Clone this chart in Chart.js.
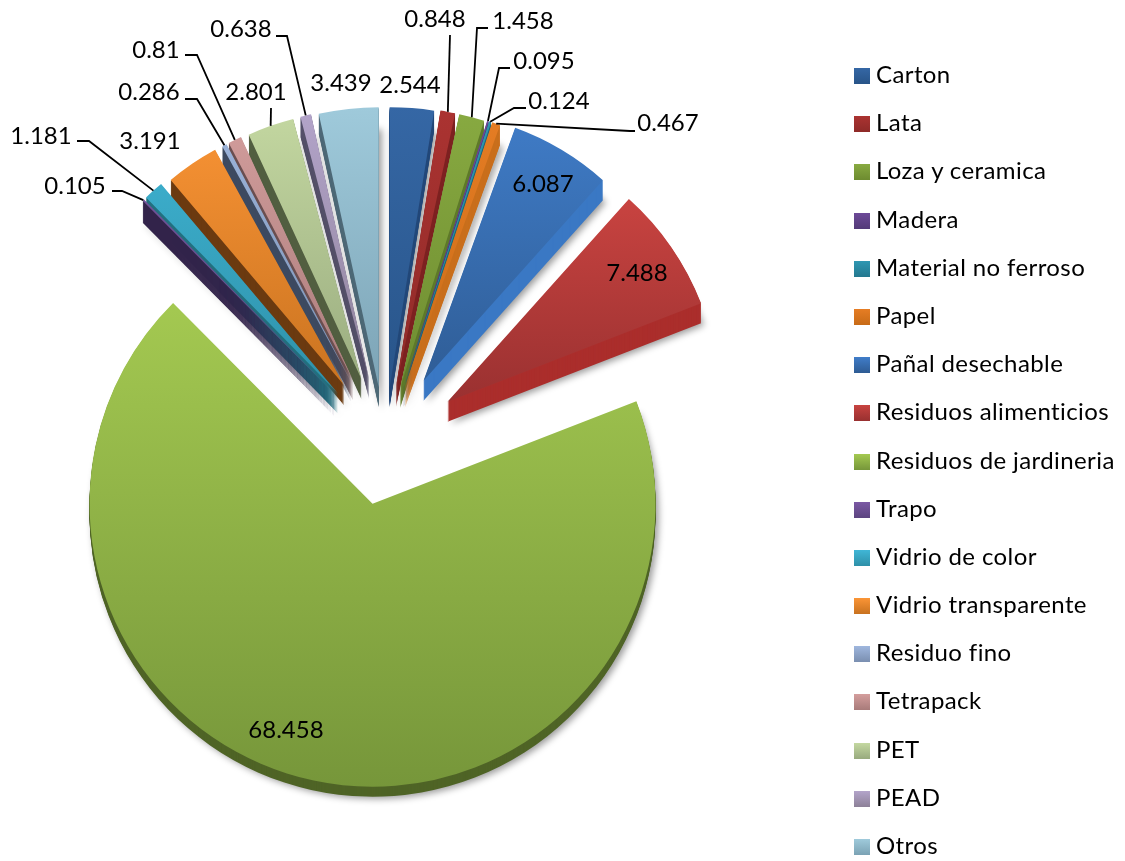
<!DOCTYPE html>
<html>
<head>
<meta charset="utf-8">
<title>Residuos</title>
<script src="https://cdn.jsdelivr.net/npm/chart.js@4"></script>
<style>
    body { margin: 0; background: #fff; }
    #wrap { position: relative; width: 1125px; height: 861px; overflow: hidden; font-family: Lato, sans-serif; }
    #legend { position: absolute; left: 854px; top: 50px; margin: 0; padding: 0; list-style: none; }
    #legend li { height: 48.2px; line-height: 48px; font-size: 24px; letter-spacing: 0.4px; font-variant-ligatures: none; color: #000; white-space: nowrap; }
    #legend i { display: inline-block; width: 16px; height: 16px; margin-right: 6px; vertical-align: -1px; }
</style>
</head>
<body>
<div id="wrap">
    <canvas id="pie" width="1125" height="861"></canvas>
    <ul id="legend"></ul>
</div>
<script>
// ===============================
// Data
// ===============================
const categories = ["Carton", "Lata", "Loza y ceramica", "Madera", "Material no ferroso", "Papel",
    "Pañal desechable", "Residuos alimenticios", "Residuos de jardineria", "Trapo", "Vidrio de color",
    "Vidrio transparente", "Residuo fino", "Tetrapack", "PET", "PEAD", "Otros"];
const values = [2.544, 0.848, 1.458, 0.095, 0.124, 0.467, 6.087, 7.488, 68.458, 0.105, 1.181, 3.191,
    0.286, 0.81, 2.801, 0.638, 3.439];

// ===============================
// Styles
// ===============================
const topColors = ["#3567a5", "#ab3331", "#88aa41", "#6d4a98", "#2f97b2", "#e67d24", "#407dc9", "#c84340",
    "#a4c951", "#7b59a4", "#40b6d6", "#fb9536", "#9fb7de", "#d49e9d", "#c4d8a1", "#b3a4ca", "#9fcadb"];
const bottomColors = ["#285488", "#8e2a28", "#6d8b30", "#533a78", "#24788f", "#c76b17", "#2e5b93", "#983030",
    "#76963a", "#5c4480", "#2e90a8", "#c8721f", "#7a8fb0", "#a87b7a", "#98aa7e", "#8d8198", "#7ba2b4"];
const sideColors = ["#24497a", "#7e2321", "#5f7a2a", "#452f66", "#1f6679", "#c96f1c", "#3a78c4", "#ab2e2c",
    "#4f6426", "#32234a", "#22707f", "#6b3a10", "#3d4a60", "#6b4f50", "#525f40", "#55506a", "#4f6a78"];
const sliceOffset = [58, 59, 59, 60, 60, 60, 75, 76, 60, 70, 70, 72, 72, 72, 70, 67, 58];
const sliceRadius = [280, 280, 280, 280, 280, 280, 269, 272, 283, 274, 274, 269, 268, 268, 269, 272, 280];
const sliceDepth = [20, 20, 20, 20, 20, 20, 20, 20, 10, 22, 20, 20, 20, 20, 20, 20, 20];
// back to front, so the lower slices on the left keep their edge visible
const sideOrder = [8, 0, 1, 2, 3, 4, 5, 6, 7, 16, 15, 14, 13, 12, 11, 10, 9];

// text centre of each value label, plus the elbow of its leader line when it has one
const labelPos = [[410, 85], [435, 19], [523, 21], [544, 61], [559, 101], [668, 123], [543, 184], [637, 273],
    [286, 730], [75, 186], [41, 136], [150, 141], [149, 92], [156, 50], [256, 92], [241, 29], [341, 83]];
const leaders = {
    1: [[450, 35]],
    2: [[488, 28], [477, 28]],
    3: [[510, 68], [499, 68]],
    4: [[526, 108], [514, 108]],
    5: [[635, 131], [630, 131]],
    9: [[112, 191], [122, 191]],
    10: [[77, 141], [89, 141]],
    12: [[185, 99], [197, 99]],
    13: [[185, 55], [197, 55]],
    14: [[271, 108]],
    15: [[276, 36], [287, 36]]
};

// ===============================
// Plugins
// ===============================

// true exploded slices: every arc gets its own apex and radius
const explode = {
    id: "explode",
    afterDatasetUpdate(chart) {
        chart.getDatasetMeta(0).data.forEach((arc, i) => {
            const mid = (arc.startAngle + arc.endAngle) / 2;
            arc.x += Math.cos(mid) * sliceOffset[i];
            arc.y += Math.sin(mid) * sliceOffset[i];
            arc.outerRadius = sliceRadius[i];
        });
    }
};

function slicePath(ctx, arc, dx, dy) {
    ctx.beginPath();
    ctx.moveTo(arc.x + dx, arc.y + dy);
    ctx.arc(arc.x + dx, arc.y + dy, arc.outerRadius, arc.startAngle, arc.endAngle);
    ctx.closePath();
}

// the 3D edge under each slice
const extrude = {
    id: "extrude",
    beforeDatasetsDraw(chart) {
        const ctx = chart.ctx;
        const arcs = chart.getDatasetMeta(0).data;
        sideOrder.forEach(i => {
            const arc = arcs[i];
            ctx.save();
            ctx.fillStyle = sideColors[i];
            ctx.shadowColor = "rgba(0,0,0,0.4)";
            ctx.shadowBlur = 7;
            ctx.shadowOffsetX = 3;
            ctx.shadowOffsetY = 2;
            slicePath(ctx, arc, 0, sliceDepth[i]);
            ctx.fill();
            ctx.restore();
            ctx.fillStyle = sideColors[i];
            for (let k = sliceDepth[i] - 1; k > 0; k--) {
                slicePath(ctx, arc, 0, k);
                ctx.fill();
            }
        });
    }
};

const valueLabels = {
    id: "valueLabels",
    afterDatasetsDraw(chart) {
        const ctx = chart.ctx;
        const arcs = chart.getDatasetMeta(0).data;
        ctx.save();
        ctx.strokeStyle = "#000";
        ctx.lineWidth = 1.8;
        Object.keys(leaders).forEach(key => {
            const arc = arcs[key];
            const mid = (arc.startAngle + arc.endAngle) / 2;
            ctx.beginPath();
            leaders[key].forEach((p, n) => n ? ctx.lineTo(p[0], p[1]) : ctx.moveTo(p[0], p[1]));
            ctx.lineTo(arc.x + Math.cos(mid) * arc.outerRadius, arc.y + Math.sin(mid) * arc.outerRadius);
            ctx.stroke();
        });
        ctx.fillStyle = "#000";
        ctx.font = "24px Lato, sans-serif";
        ctx.textAlign = "center";
        ctx.textBaseline = "middle";
        values.forEach((v, i) => ctx.fillText(String(v), labelPos[i][0], labelPos[i][1]));
        ctx.restore();
    }
};

// ===============================
// Chart
// ===============================
function sliceGradient(context) {
    const i = context.dataIndex;
    const ctx = context.chart.ctx;
    const span = i === 8 ? [300, 790] : i === 7 ? [200, 410] : [105, 400];
    const g = ctx.createLinearGradient(0, span[0], 0, span[1]);
    g.addColorStop(0, topColors[i]);
    g.addColorStop(1, bottomColors[i]);
    return g;
}

new Chart(document.getElementById("pie"), {
    type: "pie",
    data: {
        labels: categories,
        datasets: [{
            data: values,
            backgroundColor: sliceGradient,
            borderWidth: 0,
            clip: false
        }]
    },
    options: {
        responsive: false,
        animation: false,
        radius: 280,
        layout: { padding: { top: 29, right: 355 } },
        plugins: {
            legend: { display: false },
            tooltip: { enabled: false }
        }
    },
    plugins: [explode, extrude, valueLabels]
});

// ===============================
// Legend
// ===============================
const legend = document.getElementById("legend");
categories.forEach((name, i) => {
    const li = document.createElement("li");
    const box = document.createElement("i");
    box.style.background = "linear-gradient(" + topColors[i] + "," + bottomColors[i] + ")";
    li.appendChild(box);
    li.appendChild(document.createTextNode(name));
    legend.appendChild(li);
});
</script>
</body>
</html>
